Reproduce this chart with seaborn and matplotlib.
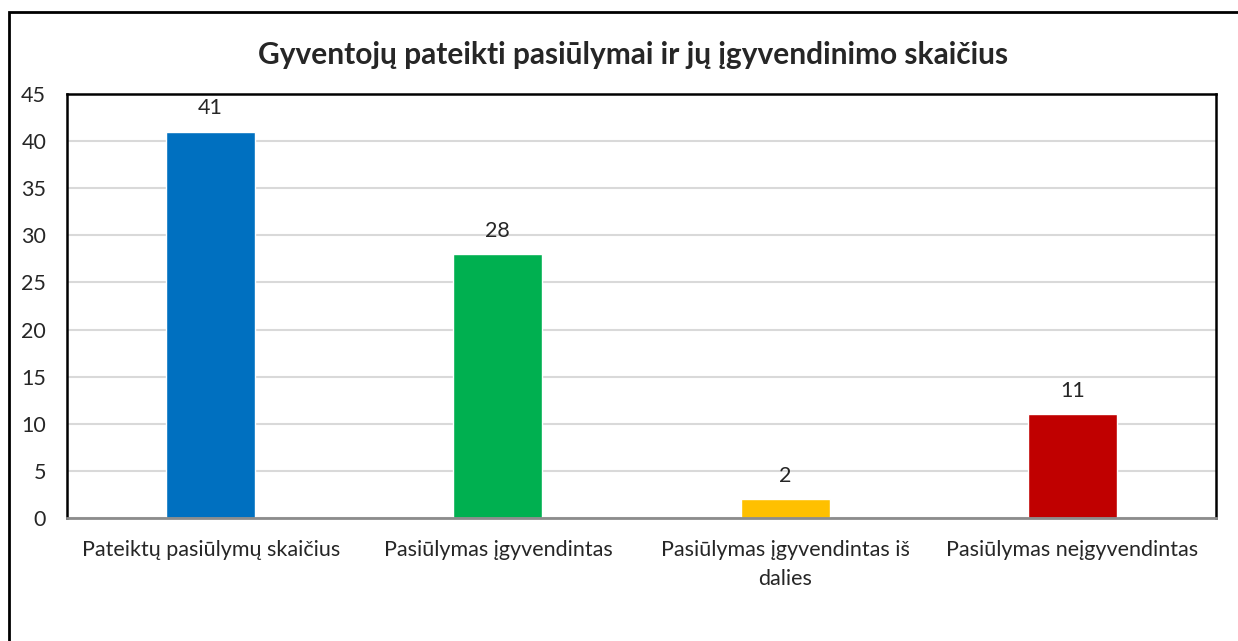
import matplotlib
matplotlib.use("Agg")
import matplotlib.pyplot as plt
import matplotlib.patches as patches
import seaborn as sns
import pandas as pd

categories = ["Pateiktų pasiūlymų skaičius", "Pasiūlymas įgyvendintas",
              "Pasiūlymas įgyvendintas iš\ndalies", "Pasiūlymas neįgyvendintas"]
values = [41, 28, 2, 11]
colors = ["#0070C0", "#00B050", "#FFC000", "#C00000"]
title = "Gyventojų pateikti pasiūlymai ir jų įgyvendinimo skaičius"

df = pd.DataFrame({"cat": categories, "val": values})

sns.set_style("white")
plt.rcParams['font.family'] = ['Lato', 'DejaVu Sans']

fig = plt.figure(figsize=(12.38, 6.41), dpi=100)
ax = fig.add_axes([67 / 1238, 1 - 518 / 641, (1216 - 67) / 1238, (518 - 94) / 641])

sns.barplot(data=df, x="cat", y="val", hue="cat", palette=colors,
            legend=False, width=0.31, ax=ax, saturation=1)

for i, v in enumerate(values):
    ax.text(i, v + 1.4, str(v), ha="center", va="bottom", fontsize=15.5)

ax.set_ylim(0, 45)
ax.set_xlim(-0.5, len(categories) - 0.5)
ax.set_yticks(range(0, 46, 5))
ax.yaxis.grid(True, color="#D9D9D9", lw=1.5)
ax.set_axisbelow(True)
ax.set_xlabel("")
ax.set_ylabel("")
ax.tick_params(axis="both", length=0, labelsize=15.5)
ax.tick_params(axis="x", pad=16)
ax.tick_params(axis="y", pad=15)
for lbl in ax.get_xticklabels():
    lbl.set_linespacing(1.55)

for side in ["left", "top", "right"]:
    ax.spines[side].set_color("black")
    ax.spines[side].set_linewidth(1.8)
ax.spines["bottom"].set_color("#8C8C8C")
ax.spines["bottom"].set_linewidth(2)

fig.text(0.511, 1 - 55 / 641, title, ha="center", va="center",
         fontsize=21.5, fontweight="bold")

border = patches.Rectangle((9 / 1238, -0.1), 1.5, 1.1 - 12 / 641,
                           transform=fig.transFigure, fill=False,
                           edgecolor="black", lw=2, clip_on=False)
fig.patches.append(border)

fig.savefig("out.png", dpi=100)
